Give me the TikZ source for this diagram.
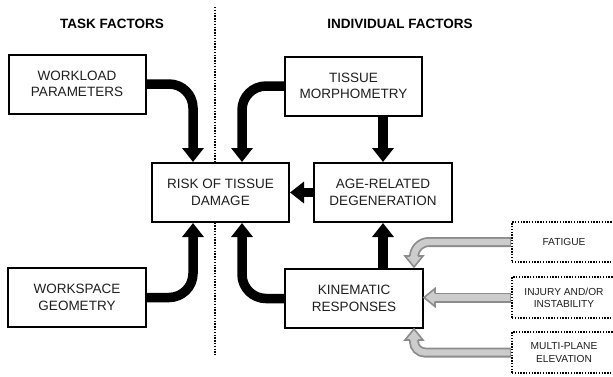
\documentclass[tikz,border=0pt]{standalone}
\usepackage{fontspec}
\setmainfont{Liberation Sans}
\usetikzlibrary{arrows.meta,calc}

\definecolor{bandout}{gray}{0.55}
\definecolor{bandin}{gray}{0.80}
\definecolor{inkc}{gray}{0.12}

\tikzset{
  mainbox/.style={draw=black, fill=white, line width=2pt, minimum width=137pt, minimum height=59pt,
    align=center, inner sep=0pt, text=inkc, font=\fontsize{13.5}{16.5}\selectfont},
  sidebox/.style={draw=black, fill=white, line width=1.6pt, dash pattern=on 1.4pt off 1.4pt,
    minimum width=104pt, minimum height=40pt, align=center, inner sep=0pt,
    text=inkc, font=\fontsize{10.2}{12.3}\selectfont},
  heading/.style={font=\bfseries\fontsize{13.5}{16}\selectfont, text=black, inner sep=0pt},
  blackflow/.style={draw=black, line width=9.5pt, rounded corners=24pt,
    -{Triangle[width=21pt,length=14pt]}},
  bandouter/.style={draw=bandout, line width=10pt},
  bandinner/.style={draw=bandin, line width=6.4pt},
  ghead/.pic={
    \fill[bandin] (-9,0) -- (0,11) -- (9,0) -- cycle;
    \draw[bandout, line width=1.6pt, line join=miter]
      (-4.2,0) -- (-9,0) -- (0,11) -- (9,0) -- (4.2,0);
  },
}

\begin{document}
\begin{tikzpicture}[x=1pt, y=-1pt]
\useasboundingbox (0,0) rectangle (613,376);

% column headings and separator
\node[heading] (htask) at (112,24) {TASK FACTORS};
\node[heading] (hind) at (400,24) {INDIVIDUAL FACTORS};
\coordinate (septop) at (215,7);
\coordinate (sepbot) at (215,355);
\draw[line width=1.6pt, dash pattern=on 1.4pt off 1.4pt] (septop) -- (sepbot);

% main boxes
\node[mainbox] (wl)   at (77,84)      {WORKLOAD\\PARAMETERS};
\node[mainbox] (tm)   at (353.5,86)   {TISSUE\\MORPHOMETRY};
\node[mainbox] (risk) at (220.5,192.5){RISK OF TISSUE\\DAMAGE};
\node[mainbox, minimum width=138pt] (age) at (383,192.5) {AGE-RELATED\\DEGENERATION};
\node[mainbox, minimum width=138pt] (ws)  at (77,297.5)  {WORKSPACE\\GEOMETRY};
\node[mainbox, minimum width=138pt] (kin) at (354,298.5) {KINEMATIC\\RESPONSES};

% dotted factor boxes
\node[sidebox] (fat) at (564,242)   {FATIGUE};
\node[sidebox, minimum height=41pt] (inj) at (564,297.5) {INJURY AND/OR\\INSTABILITY};
\node[sidebox, minimum height=41pt] (mul) at (564,352.5) {MULTI-PLANE\\ELEVATION};

% black flows
\draw[blackflow] (wl.east) -| ([xshift=-27.5pt]risk.north);
\draw[blackflow] (tm.west) -| ([xshift=21.5pt]risk.north);
\draw[blackflow] (age.north |- tm.south) -- (age.north);
\draw[blackflow] (age.west) -- (risk.east);
\draw[blackflow] (ws.east) -| ([xshift=-27.5pt]risk.south);
\draw[blackflow] (kin.west) -| ([xshift=21.5pt]risk.south);
\draw[blackflow] (age.south |- kin.north) -- (age.south);

% grey flows into kinematic responses
\coordinate (fbase) at ([xshift=-10pt,yshift=12pt]kin.north east);
\coordinate (ibase) at ($(kin.east |- inj.west)+(11,0)$);
\coordinate (mbase) at ([xshift=-10pt,yshift=-11pt]kin.south east);

\draw[bandouter, rounded corners=15pt] (fat.west) -| (fbase);
\draw[bandinner, rounded corners=15pt] ([xshift=-1pt]fat.west) -| (fbase);
\pic at (fbase) {ghead};

\draw[bandouter] (inj.west) -- (ibase);
\draw[bandinner] ([xshift=-1pt]inj.west) -- (ibase);
\pic[rotate=-90] at (ibase) {ghead};

\draw[bandouter, rounded corners=11pt] (mul.west) -| (mbase);
\draw[bandinner, rounded corners=11pt] ([xshift=-1pt]mul.west) -| (mbase);
\pic[rotate=180] at (mbase) {ghead};
\end{tikzpicture}
\end{document}
